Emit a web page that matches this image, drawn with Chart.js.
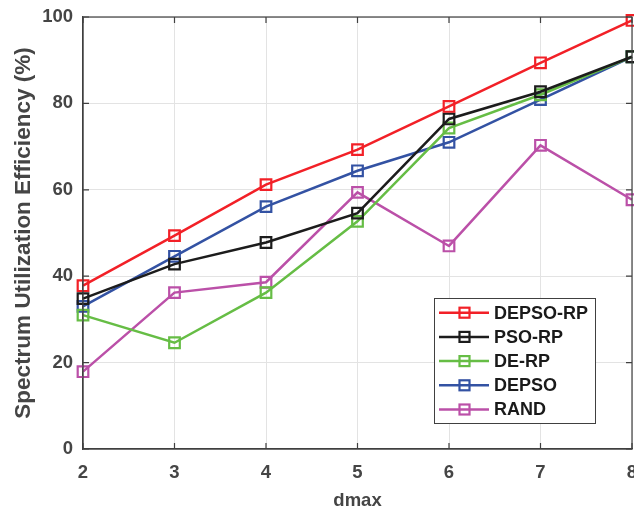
<!DOCTYPE html>
<html>
<head>
<meta charset="utf-8">
<script src="https://cdn.jsdelivr.net/npm/chart.js@4.4.0/dist/chart.umd.min.js"></script>
<style>
html, body { margin: 0; padding: 0; background: #fff; overflow: hidden; }
#wrap { position: relative; width: 652px; height: 512px; }
</style>
</head>
<body>
<div id="wrap"><canvas id="myChart"></canvas></div>
<script>
'use strict';

// data
const dmaxValues = [2, 3, 4, 5, 6, 7, 8];
const depsoRp = [37.8, 49.4, 61.2, 69.3, 79.3, 89.4, 99.2];
const psoRp   = [34.8, 42.8, 47.8, 54.6, 76.4, 82.7, 90.8];
const deRp    = [31.0, 24.6, 36.2, 52.7, 74.3, 82.0, 90.8];
const depso   = [33.0, 44.6, 56.1, 64.4, 71.0, 80.9, 90.8];
const rand    = [17.9, 36.2, 38.6, 59.4, 47.0, 70.3, 57.7];
const seriesNames = ['DEPSO-RP', 'PSO-RP', 'DE-RP', 'DEPSO', 'RAND'];
const yTicks = [0, 20, 40, 60, 80, 100];

const colors = ['#f22027', '#1c1c1c', '#66bd45', '#3352a3', '#bb50a8'];
const textColor = '#454545';
const fontFam = '"Liberation Sans", Arial, Helvetica, sans-serif';

const toPoints = vals => vals.map((v, i) => ({ x: dmaxValues[i], y: v }));

const allSeries = [depsoRp, psoRp, deRp, depso, rand];
const datasets = allSeries.map((vals, i) => ({
    label: seriesNames[i],
    data: toPoints(vals),
    borderColor: colors[i],
    backgroundColor: colors[i],
    borderWidth: 2.5,
    pointStyle: 'rect',
    pointRadius: 7.5,
    pointHoverRadius: 7.5,
    pointBorderWidth: 2.2,
    pointBackgroundColor: 'rgba(0,0,0,0)',
    pointBorderColor: colors[i],
    tension: 0,
    clip: false
}));

// box, inward ticks and legend, matlab style
const matlabBox = {
    id: 'matlabBox',
    afterDraw(chart) {
        const ctx = chart.ctx;
        const a = chart.chartArea;
        const xs = chart.scales.x;
        const ys = chart.scales.y;
        ctx.save();
        ctx.strokeStyle = '#404040';
        ctx.lineWidth = 1.2;
        ctx.strokeRect(a.left, a.top, a.right - a.left, a.bottom - a.top);
        ctx.beginPath();
        dmaxValues.forEach(v => {
            const px = xs.getPixelForValue(v);
            ctx.moveTo(px, a.bottom); ctx.lineTo(px, a.bottom - 6);
            ctx.moveTo(px, a.top); ctx.lineTo(px, a.top + 6);
        });
        yTicks.forEach(v => {
            const py = ys.getPixelForValue(v);
            ctx.moveTo(a.left, py); ctx.lineTo(a.left + 6, py);
            ctx.moveTo(a.right, py); ctx.lineTo(a.right - 6, py);
        });
        ctx.stroke();

        // legend
        const lx = 434, ly = 298, lw = 161, lh = 125;
        ctx.fillStyle = '#fff';
        ctx.fillRect(lx, ly, lw, lh);
        ctx.strokeStyle = '#404040';
        ctx.lineWidth = 1;
        ctx.strokeRect(lx + 0.5, ly + 0.5, lw, lh);
        ctx.font = 'bold 18px ' + fontFam;
        ctx.textBaseline = 'middle';
        ctx.textAlign = 'left';
        chart.data.datasets.forEach((ds, i) => {
            const y = 312.7 + i * 24.2;
            ctx.strokeStyle = ds.borderColor;
            ctx.lineWidth = 2.5;
            ctx.beginPath();
            ctx.moveTo(439, y); ctx.lineTo(489, y);
            ctx.stroke();
            ctx.lineWidth = 2.2;
            ctx.strokeRect(464.5 - 5, y - 5, 10, 10);
            ctx.fillStyle = '#1a1a1a';
            ctx.fillText(ds.label, 494, y + 1);
        });
        ctx.restore();
    }
};

const ctx = document.getElementById('myChart');
const myChart = new Chart(ctx, {
    type: 'line',
    data: { datasets },
    options: {
        responsive: true,
        maintainAspectRatio: false,
        animation: false,
        events: [],
        layout: { padding: { top: 17, right: 20, left: 0, bottom: 0 } },
        plugins: {
            legend: { display: false },
            tooltip: { enabled: false }
        },
        scales: {
            x: {
                type: 'linear',
                min: 2,
                max: 8,
                afterFit: scale => {
                    scale.height = 63;
                    scale.paddingLeft = 0;
                    scale.paddingRight = 0;
                },
                afterBuildTicks: scale => { scale.ticks = dmaxValues.map(v => ({ value: v })); },
                grid: { color: '#e3e3e3', lineWidth: 1, drawTicks: false },
                border: { display: true, color: '#404040', width: 1.2 },
                ticks: {
                    color: textColor,
                    padding: 13,
                    font: { family: fontFam, size: 18.5, weight: 'bold' }
                },
                title: {
                    display: true,
                    text: 'dmax',
                    color: textColor,
                    padding: { top: 6, bottom: 0 },
                    font: { family: fontFam, size: 18.5, weight: 'bold' }
                }
            },
            y: {
                min: 0,
                max: 100,
                afterFit: scale => {
                    scale.width = 83;
                    scale.paddingTop = 0;
                    scale.paddingBottom = 0;
                },
                afterBuildTicks: scale => { scale.ticks = yTicks.map(v => ({ value: v })); },
                grid: { color: '#e3e3e3', lineWidth: 1, drawTicks: false },
                border: { display: true, color: '#404040', width: 1.2 },
                ticks: {
                    color: textColor,
                    padding: 10,
                    font: { family: fontFam, size: 18.5, weight: 'bold' }
                },
                title: {
                    display: true,
                    text: 'Spectrum Utilization Efficiency (%)',
                    color: textColor,
                    padding: { top: 10, bottom: 4 },
                    font: { family: fontFam, size: 22.5, weight: 'bold' }
                }
            }
        }
    },
    plugins: [matlabBox]
});
</script>
</body>
</html>
